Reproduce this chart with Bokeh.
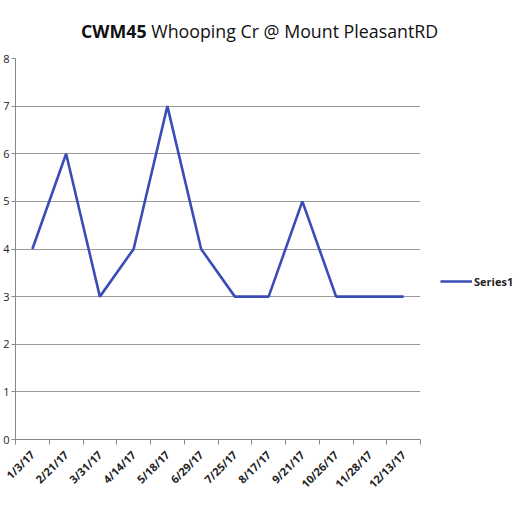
from bokeh.plotting import figure
from bokeh.models import (ColumnDataSource, FixedTicker, Legend, LegendItem, Range1d, Div)
from bokeh.layouts import column
from bokeh.embed import file_html
from bokeh.resources import INLINE

dates = ["1/3/17", "2/21/17", "3/31/17", "4/14/17", "5/18/17", "6/29/17",
         "7/25/17", "8/17/17", "9/21/17", "10/26/17", "11/28/17", "12/13/17"]
series1 = [4, 6, 3, 4, 7, 4, 3, 3, 5, 3, 3, 3]
y_ticks = [0, 1, 2, 3, 4, 5, 6, 7, 8]
title_bold = "CWM45"
title_rest = "Whooping Cr @ Mount PleasantRD"
series_name = "Series1"

xs = [i + 0.5 for i in range(len(dates))]
src = ColumnDataSource(dict(x=xs, y=series1, d=dates))

title = Div(text=f"<b>{title_bold}</b> {title_rest}", width=516, height=40,
            styles={"font-family": "Open Sans", "font-size": "17.8px", "color": "#111111",
                    "text-align": "left", "padding-left": "76px", "padding-top": "14px",
                    "white-space": "nowrap"})

p = figure(width=516, height=468, output_backend="svg", toolbar_location=None,
           x_range=Range1d(0, len(dates)), y_range=Range1d(0, 8),
           frame_width=405, frame_height=381,
           min_border_left=2, min_border_top=8, min_border_right=2, min_border_bottom=2)
p.outline_line_color = None
p.background_fill_color = "white"
p.border_fill_color = "white"

line = p.line("x", "y", source=src, line_color="#3a4cb8", line_width=2.6)

# x axis: labels at centers, ticks at boundaries
p.xaxis.ticker = FixedTicker(ticks=xs, minor_ticks=list(range(len(dates) + 1)))
p.xaxis.major_label_overrides = {x: d for x, d in zip(xs, dates)}
p.xaxis.major_label_orientation = 0.785
p.xaxis.major_tick_out = 0
p.xaxis.major_tick_in = 0
p.xaxis.minor_tick_out = 5
p.xaxis.minor_tick_in = 0
p.xaxis.minor_tick_line_color = "#888888"
p.xaxis.axis_line_color = "#888888"
p.xaxis.major_label_text_font = "Open Sans"
p.xaxis.major_label_text_font_size = "11px"
p.xaxis.major_label_text_font_style = "bold"
p.xaxis.major_label_text_color = "#222222"
p.xaxis.major_label_standoff = 8
p.xgrid.grid_line_color = None

p.yaxis.ticker = FixedTicker(ticks=y_ticks)
p.yaxis.minor_tick_line_color = None
p.yaxis.major_tick_out = 4
p.yaxis.major_tick_in = 0
p.yaxis.major_tick_line_color = "#888888"
p.yaxis.axis_line_color = "#888888"
p.yaxis.major_label_text_font = "Open Sans"
p.yaxis.major_label_text_font_size = "11px"
p.yaxis.major_label_text_color = "#222222"
p.yaxis.major_label_standoff = 2
p.ygrid.grid_line_color = "#9a9a9a"
p.ygrid.grid_line_width = 1.2

legend = Legend(items=[LegendItem(label=series_name, renderers=[line])],
                location=(20, 148), border_line_color=None,
                background_fill_alpha=0, label_text_font="Open Sans",
                label_text_font_size="11px", label_text_font_style="bold",
                label_text_color="#222222", glyph_width=32, label_standoff=2,
                padding=0, margin=0)
p.add_layout(legend, "right")

open("out.html", "w").write(file_html(column(title, p, spacing=0), INLINE))
